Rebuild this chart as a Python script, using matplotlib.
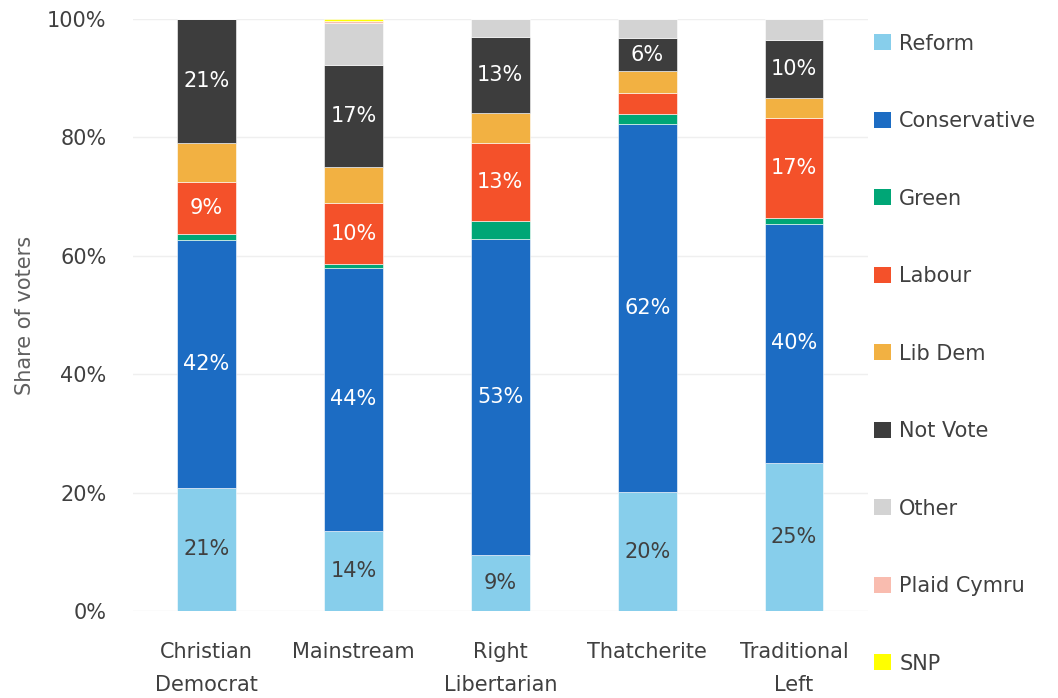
import matplotlib
matplotlib.use("Agg")
import matplotlib.pyplot as plt
import numpy as np
from matplotlib.patches import Patch
from matplotlib.ticker import PercentFormatter

plt.rcParams["font.family"] = ["DejaVu Sans"]

categories = ["Christian\nDemocrat", "Mainstream", "Right\nLibertarian", "Thatcherite", "Traditional\nLeft"]
parties = ["Reform", "Conservative", "Green", "Labour", "Lib Dem", "Not Vote", "Other", "Plaid Cymru", "SNP"]
colors = ["#87CEEB", "#1C6CC3", "#00A676", "#F4512A", "#F2B142", "#3D3D3D", "#D3D3D3", "#F9BCAF", "#FFFF00"]

reform = [20.8, 13.6, 9.4, 20.1, 25.0]
conservative = [41.9, 44.3, 53.4, 62.2, 40.4]
green = [1.0, 0.7, 3.0, 1.7, 1.0]
labour = [8.8, 10.3, 13.2, 3.5, 16.9]
lib_dem = [6.6, 6.1, 5.1, 3.7, 3.4]
not_vote = [20.9, 17.2, 12.8, 5.6, 9.8]
other = [0.0, 7.1, 3.1, 3.2, 3.5]
plaid = [0.0, 0.3, 0.0, 0.0, 0.0]
snp = [0.0, 0.4, 0.0, 0.0, 0.0]

series = [reform, conservative, green, labour, lib_dem, not_vote, other, plaid, snp]
labelled = {"Reform": "#404040", "Conservative": "white", "Labour": "white", "Not Vote": "white"}

fig = plt.figure(figsize=(10.58, 6.98), dpi=100)
ax = fig.add_axes([0.1257, 0.1246, 0.6943, 0.8482])

x = np.arange(len(categories))
bottom = np.zeros(len(categories))
for name, vals, col in zip(parties, series, colors):
    vals = np.array(vals)
    ax.bar(x, vals, bottom=bottom, width=0.4, color=col, edgecolor="white",
           linewidth=0.4, zorder=3)
    if name in labelled:
        for xi, b, v in zip(x, bottom, vals):
            if v >= 5:
                ax.text(xi, b + v / 2, f"{round(v):.0f}%", ha="center", va="center",
                        color=labelled[name], fontsize=15, zorder=4)
    bottom += vals

ax.set_xlim(-0.5, len(categories) - 0.5)
ax.set_ylim(0, 100)
ax.set_yticks(np.arange(0, 101, 20))
ax.yaxis.set_major_formatter(PercentFormatter(decimals=0))
ax.set_xticks(x)
ax.set_xticklabels(categories, linespacing=1.85)
ax.tick_params(axis="both", length=0, labelsize=15, labelcolor="#404040")
ax.tick_params(axis="x", pad=22)
ax.tick_params(axis="y", pad=19)
ax.grid(axis="y", color="#EFEFEF", linewidth=1, zorder=0)
for s in ax.spines.values():
    s.set_visible(False)
ax.set_ylabel("Share of voters", fontsize=15, color="#606060", labelpad=9)

handles = [Patch(facecolor=c, edgecolor="none") for c in colors]
ax.legend(handles, parties, loc="upper left", bbox_to_anchor=(0.995, 0.993), frameon=False,
          fontsize=15, labelcolor="#404040", handlelength=0.8, handleheight=0.8,
          handletextpad=0.4, labelspacing=2.76, borderaxespad=0.1)

fig.savefig("out.png", dpi=100)
